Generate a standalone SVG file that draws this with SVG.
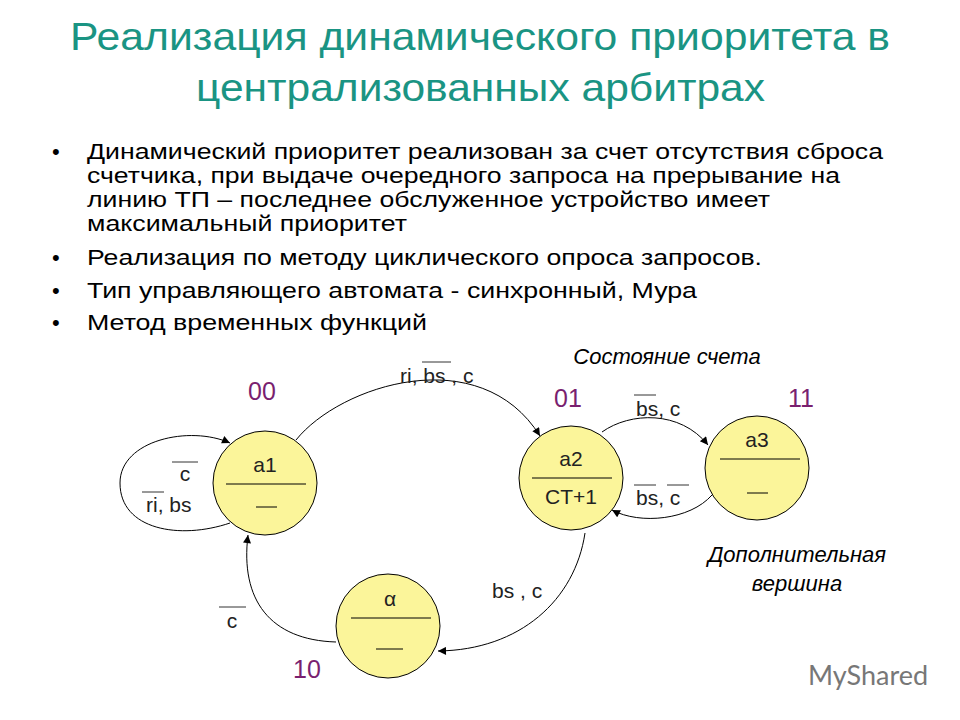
<svg xmlns="http://www.w3.org/2000/svg" width="960" height="720" viewBox="0 0 960 720">
<style>
.t{font-family:"Liberation Sans",Arial,sans-serif;fill:#000}
.ttl{font-family:"Liberation Sans",Arial,sans-serif;fill:#1a9483;font-size:39px}
.b{font-size:22px}
.lab{font-size:21px;fill:#222}
.st{font-family:"Liberation Sans",Arial,sans-serif;font-size:25px;fill:#7a1f6f}
.it{font-style:italic;font-size:22px}
.node{fill:#fbf59a;stroke:#000;stroke-width:1}
.sep{stroke:#000;stroke-width:1}
.e{fill:none;stroke:#000;stroke-width:1;marker-end:url(#ar)}
.ov{stroke:#333;stroke-width:1}
</style>
<defs><marker id="ar" viewBox="0 0 10 10" refX="10" refY="5" markerWidth="10" markerHeight="8" orient="auto" markerUnits="userSpaceOnUse"><path d="M0,0 L10,5 L0,10 z" fill="#000"/></marker></defs>
<rect width="960" height="720" fill="#fff"/>
<text class="ttl" x="70" y="50" textLength="820" lengthAdjust="spacingAndGlyphs">Реализация динамического приоритета в</text>
<text class="ttl" x="196" y="101" textLength="569" lengthAdjust="spacingAndGlyphs">централизованных арбитрах</text>
<g class="t b">
<text x="52" y="159">•</text><text x="87" y="159" textLength="796" lengthAdjust="spacingAndGlyphs">Динамический приоритет реализован за счет отсутствия сброса</text>
<text x="87" y="183" textLength="753" lengthAdjust="spacingAndGlyphs">счетчика, при выдаче очередного запроса на прерывание на</text>
<text x="87" y="207" textLength="683" lengthAdjust="spacingAndGlyphs">линию ТП – последнее обслуженное устройство имеет</text>
<text x="87" y="231" textLength="320" lengthAdjust="spacingAndGlyphs">максимальный приоритет</text>
<text x="52" y="265">•</text><text x="87" y="265" textLength="675" lengthAdjust="spacingAndGlyphs">Реализация по методу циклического опроса запросов.</text>
<text x="52" y="298">•</text><text x="87" y="298" textLength="610" lengthAdjust="spacingAndGlyphs">Тип управляющего автомата - синхронный, Мура</text>
<text x="52" y="330">•</text><text x="87" y="330" textLength="340" lengthAdjust="spacingAndGlyphs">Метод временных функций</text>
</g>
<g id="connectors">
<path class="e" d="M296,440 C340,385 480,340 540,436"/>
<path class="e" d="M230,523 C180,540 120,530 120,483 C120,440 190,425 230,443"/>
<path class="e" d="M602,432 C630,412 680,410 708,445"/>
<path class="e" d="M712,495 C690,520 640,525 612,510"/>
<path class="e" d="M585,533 C575,600 520,650 438,651"/>
<path class="e" d="M336,642 C270,640 240,600 248,535"/>
</g>
<g id="a1"><circle class="node" cx="265" cy="483" r="52"/><line class="sep" x1="226" y1="484" x2="306" y2="484"/><text class="t lab" x="265" y="472" text-anchor="middle">a1</text><line class="sep" x1="256" y1="507" x2="277" y2="507"/></g>
<g id="a2"><circle class="node" cx="571" cy="478" r="52"/><line class="sep" x1="532" y1="478" x2="612" y2="478"/><text class="t lab" x="571" y="466" text-anchor="middle">a2</text><text class="t lab" x="571" y="504" text-anchor="middle">CT+1</text></g>
<g id="a3"><circle class="node" cx="757" cy="468" r="52"/><line class="sep" x1="720" y1="459" x2="800" y2="459"/><text class="t lab" x="757" y="447" text-anchor="middle">a3</text><line class="sep" x1="747" y1="493" x2="768" y2="493"/></g>
<g id="alpha"><circle class="node" cx="388" cy="626" r="52"/><line class="sep" x1="351" y1="618" x2="431" y2="618"/><text class="t lab" x="390" y="606" text-anchor="middle">α</text><line class="sep" x1="376" y1="649" x2="403" y2="649"/></g>
<g id="labels">
<text class="t lab" x="400" y="383">ri, bs , c</text><line class="ov" x1="422" y1="362" x2="451" y2="362"/>
<text class="t lab" x="185" y="481" text-anchor="middle">c</text><line class="ov" x1="172" y1="462" x2="198" y2="462"/>
<text class="t lab" x="146" y="512">ri, bs</text><line class="ov" x1="142" y1="492" x2="164" y2="492"/>
<text class="t lab" x="636" y="416">bs, c</text><line class="ov" x1="634" y1="395" x2="656" y2="395"/>
<text class="t lab" x="636" y="505">bs, c</text><line class="ov" x1="634" y1="485" x2="656" y2="485"/><line class="ov" x1="667" y1="485" x2="689" y2="485"/>
<text class="t lab" x="492" y="598">bs , c</text>
<text class="t lab" x="232" y="628" text-anchor="middle">c</text><line class="ov" x1="219" y1="607" x2="246" y2="607"/>
<text class="st" x="262" y="400" text-anchor="middle">00</text>
<text class="st" x="568" y="407" text-anchor="middle">01</text>
<text class="st" x="801" y="407" text-anchor="middle">11</text>
<text class="st" x="307" y="678" text-anchor="middle">10</text>
<text class="t it" x="667" y="364" text-anchor="middle">Состояние счета</text>
<text class="t it" x="797" y="562" text-anchor="middle">Дополнительная</text>
<text class="t it" x="797" y="591" text-anchor="middle">вершина</text>
</g>
<text x="808" y="685" font-family="Lato,sans-serif" font-size="27" fill="#777">MyShared</text>
</svg>
